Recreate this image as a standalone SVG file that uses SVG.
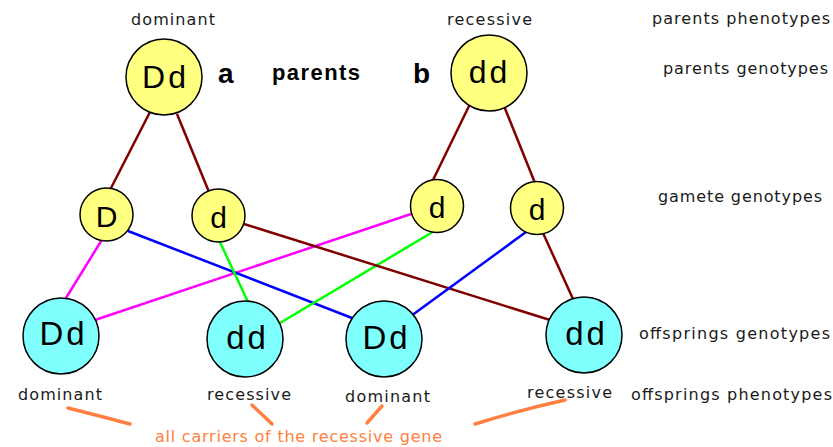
<svg xmlns="http://www.w3.org/2000/svg" width="833" height="447" viewBox="0 0 833 447">
<style>
.lbl{font-family:"DejaVu Sans",Verdana,sans-serif;font-size:16px;fill:#1a1a1a}
.big{font-family:"Liberation Sans",Arial,sans-serif;font-weight:bold;fill:#000}
.g{font-family:"Liberation Sans",Arial,sans-serif;fill:#000;text-anchor:middle}
.par{fill:#ffff80;stroke:#000;stroke-width:1.5}
.off{fill:#80ffff;stroke:#000;stroke-width:1.5}
.c line{stroke-width:2.5;fill:none}
.br{stroke:#800000}.mg{stroke:#ff00ff}.bl{stroke:#0000ff}.gr{stroke:#00ff00}
.or{stroke:#ff8040;stroke-width:3.5;stroke-linecap:round;fill:none}
.ot{font-family:"DejaVu Sans",Verdana,sans-serif;font-size:16px;fill:#ff8040}
</style>
<rect width="833" height="447" fill="#fff"/>
<g id="connectors" class="c">
<line class="br" x1="150" y1="112" x2="110" y2="190"/>
<line class="br" x1="177" y1="114" x2="209" y2="192"/>
<line class="br" x1="470" y1="104" x2="433" y2="180"/>
<line class="br" x1="504" y1="106" x2="535" y2="183"/>
<line class="mg" x1="103" y1="238" x2="66" y2="298"/>
<line class="mg" x1="414" y1="213" x2="95" y2="320"/>
<line class="bl" x1="128" y1="231" x2="352" y2="318"/>
<line class="gr" x1="219" y1="240" x2="248" y2="302"/>
<line class="gr" x1="436" y1="230" x2="280" y2="323"/>
<line class="br" x1="244" y1="224" x2="550" y2="320"/>
<line class="bl" x1="526" y1="232" x2="411" y2="316"/>
<line class="br" x1="543" y1="233" x2="573" y2="299"/>
</g>
<g id="parentA"><circle class="par" cx="164" cy="77" r="38"/><text class="g" x="165.5" y="88" font-size="32" letter-spacing="3">Dd</text></g>
<g id="parentB"><circle class="par" cx="489" cy="73" r="38"/><text class="g" x="489.5" y="83" font-size="32" letter-spacing="3">dd</text></g>
<g id="gameteD"><circle class="par" cx="106.5" cy="214.5" r="26.5"/><text class="g" x="106.5" y="227" font-size="30">D</text></g>
<g id="gameted1"><circle class="par" cx="218.5" cy="215.5" r="26.5"/><text class="g" x="218.5" y="228" font-size="30">d</text></g>
<g id="gameted2"><circle class="par" cx="437" cy="206" r="26.5"/><text class="g" x="437" y="218" font-size="30">d</text></g>
<g id="gameted3"><circle class="par" cx="537" cy="208" r="26.5"/><text class="g" x="537" y="220" font-size="30">d</text></g>
<g id="off1"><circle class="off" cx="61" cy="336" r="38"/><text class="g" x="63.5" y="345" font-size="33" letter-spacing="3">Dd</text></g>
<g id="off2"><circle class="off" cx="245" cy="339" r="38"/><text class="g" x="247.5" y="349" font-size="33" letter-spacing="3">dd</text></g>
<g id="off3"><circle class="off" cx="384" cy="339" r="38"/><text class="g" x="386.5" y="349" font-size="33" letter-spacing="3">Dd</text></g>
<g id="off4"><circle class="off" cx="584" cy="335" r="38"/><text class="g" x="586.5" y="345" font-size="33" letter-spacing="3">dd</text></g>
<g id="labels">
<text class="lbl" x="131" y="25" textLength="84">dominant</text>
<text class="lbl" x="447" y="25" textLength="85">recessive</text>
<text class="lbl" x="652" y="24" textLength="178">parents phenotypes</text>
<text class="lbl" x="663" y="74" textLength="165">parents genotypes</text>
<text class="lbl" x="658" y="202" textLength="164">gamete genotypes</text>
<text class="lbl" x="639" y="339" textLength="191">offsprings genotypes</text>
<text class="lbl" x="631" y="400" textLength="201">offsprings phenotypes</text>
<text class="lbl" x="18" y="400" textLength="84">dominant</text>
<text class="lbl" x="207" y="400" textLength="84">recessive</text>
<text class="lbl" x="345" y="402" textLength="85">dominant</text>
<text class="lbl" x="527" y="398" textLength="85">recessive</text>
<text class="big" x="272" y="80" font-size="22" textLength="88">parents</text>
<text class="big" x="218" y="83" font-size="28">a</text>
<text class="big" x="413" y="83" font-size="28">b</text>
</g>
<g id="carriers">
<path class="or" d="M68 408 Q100 416 130 424"/>
<path class="or" d="M252 405 L272 424"/>
<path class="or" d="M382 406 L367 423"/>
<path class="or" d="M565 400 Q520 410 475 424"/>
<text class="ot" x="155" y="442" textLength="287">all carriers of the recessive gene</text>
</g>
</svg>
